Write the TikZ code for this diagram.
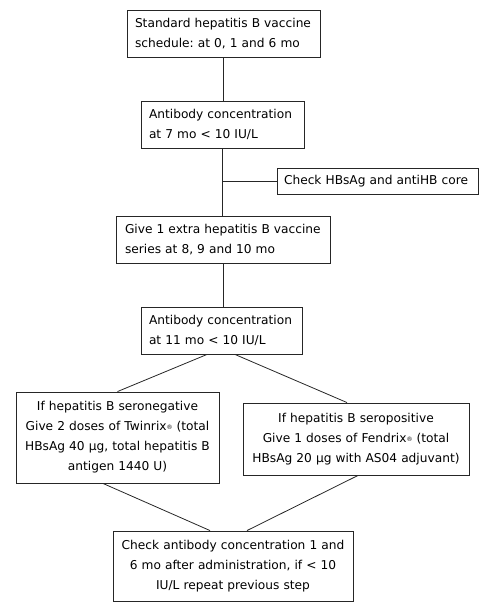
\documentclass[tikz,border=0pt]{standalone}
\usepackage{fontspec}
\setmainfont{DejaVu Sans}
\frenchspacing
\begin{document}
\begin{tikzpicture}[x=1pt,y=-1pt,
  box/.style={draw=black!85, line width=0.9pt, inner xsep=8pt, inner ysep=0pt,
    font=\fontsize{12.2}{20}\selectfont\frenchspacing, anchor=center},
  conn/.style={draw=black!85, line width=0.8pt}]
\useasboundingbox (0,0) rectangle (500,611);
\newcommand{\regmark}{{\fontsize{6}{6}\selectfont\raisebox{0.35ex}{®}}}
\node[box, minimum width=193pt, minimum height=47pt, text width=177pt, align=left] (b1) at (223.5,33.5)
  {Standard hepatitis B vaccine\\schedule: at 0, 1 and 6 mo};
\node[box, minimum width=163pt, minimum height=47pt, text width=147pt, align=left] (b2) at (222.5,124.5)
  {Antibody concentration\\at 7 mo < 10 IU/L};
\node[box, minimum width=201pt, minimum height=26pt, text width=187pt, inner xsep=7pt, align=left] (chk) at (377.5,181)
  {Check HBsAg and antiHB core};
\node[box, minimum width=214pt, minimum height=47pt, text width=196pt, inner xsep=9pt, align=left] (b3) at (223,239.5)
  {Give 1 extra hepatitis B vaccine\\series at 8, 9 and 10 mo};
\node[box, minimum width=161pt, minimum height=47pt, text width=145pt, align=left] (b4) at (221.5,330.5)
  {Antibody concentration\\at 11 mo < 10 IU/L};
\node[box, minimum width=203pt, minimum height=91pt, text width=187pt, align=center] (b5) at (117.5,437.5)
  {If hepatitis B seronegative\\Give 2 doses of Twinrix\regmark{} (total\\HBsAg 40 µg, total hepatitis B\\antigen 1440 U)};
\node[box, minimum width=226pt, minimum height=72pt, text width=210pt, align=center] (b6) at (356,439)
  {If hepatitis B seropositive\\Give 1 doses of Fendrix\regmark{} (total\\HBsAg 20 µg with AS04 adjuvant)};
\node[box, minimum width=240pt, minimum height=70pt, text width=224pt, align=center] (b7) at (233,566)
  {Check antibody concentration 1 and\\6 mo after administration, if < 10\\IU/L repeat previous step};
\coordinate (br) at (b2.south |- chk.west);
\draw[conn] (b1.south) -- (b1.south |- b2.north);
\draw[conn] (b2.south) -- (b2.south |- b3.north);
\draw[conn] (br) -- (chk.west);
\draw[conn] (b3.south) -- (b3.south |- b4.north);
\draw[conn] ([xshift=-14.5pt]b4.south) -- (b5.north);
\draw[conn] ([xshift=13.5pt]b4.south) -- ([xshift=-9pt]b6.north);
\draw[conn] ([xshift=-14.5pt]b5.south) -- ([xshift=-23pt]b7.north);
\draw[conn] ([xshift=2pt]b6.south) -- ([xshift=14pt]b7.north);
\end{tikzpicture}
\end{document}
